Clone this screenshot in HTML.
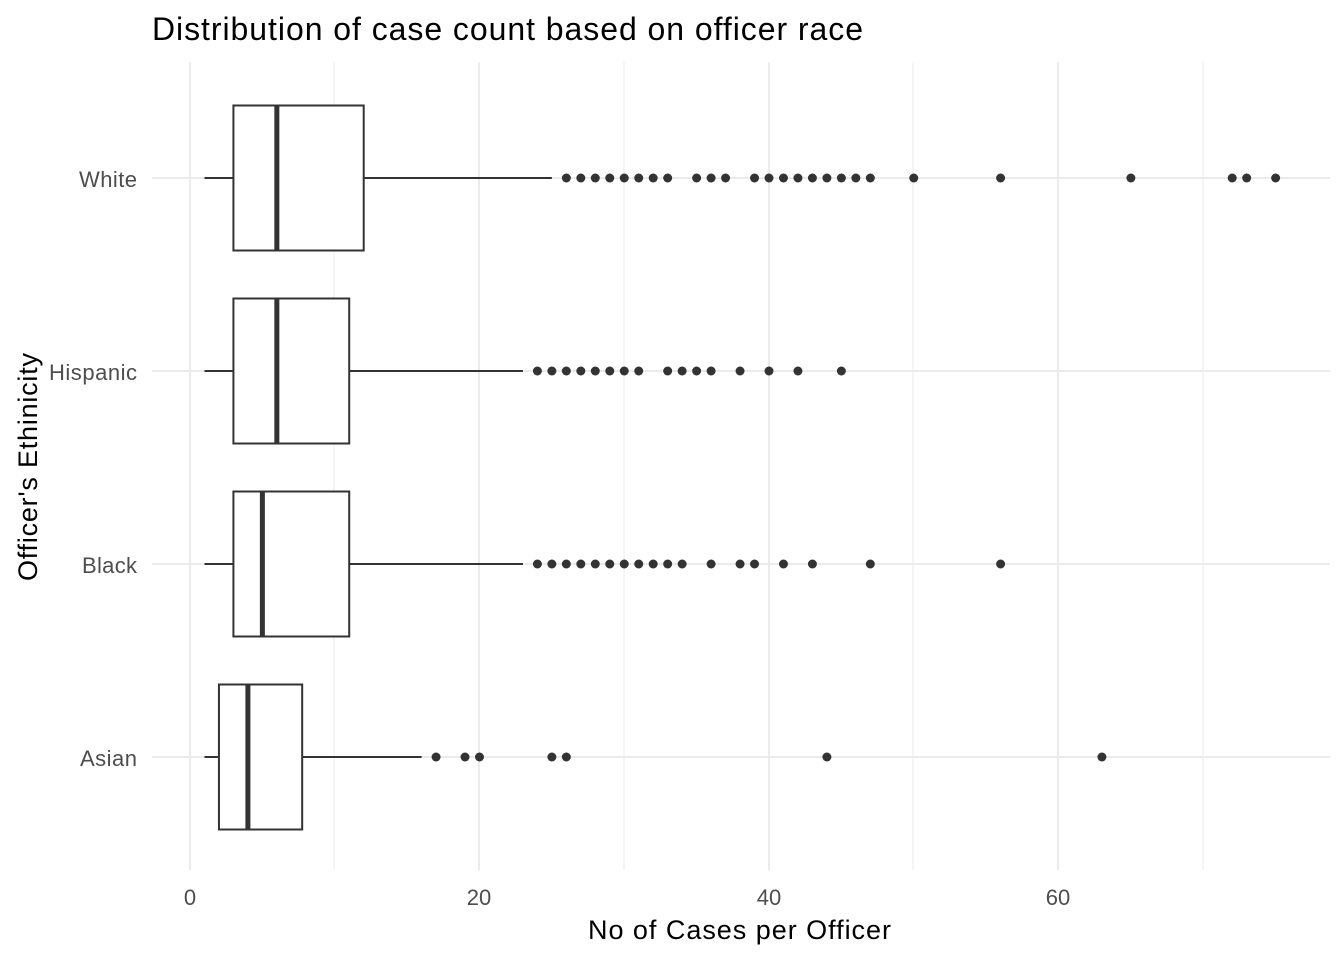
<!DOCTYPE html>
<html><head><style>body{margin:0;background:#fff}</style></head><body>
<svg width="1344" height="960" xmlns="http://www.w3.org/2000/svg" font-family="Liberation Sans, sans-serif">
<rect width="1344" height="960" fill="#fff"/>
<g stroke="#ebebeb" stroke-width="1">
<line x1="334" y1="62" x2="334" y2="870"/><line x1="624" y1="62" x2="624" y2="870"/><line x1="913" y1="62" x2="913" y2="870"/><line x1="1203" y1="62" x2="1203" y2="870"/>
</g>
<g stroke="#ebebeb" stroke-width="2">
<line x1="190" y1="62" x2="190" y2="870"/><line x1="479" y1="62" x2="479" y2="870"/><line x1="769" y1="62" x2="769" y2="870"/><line x1="1058" y1="62" x2="1058" y2="870"/>
<line x1="152" y1="178" x2="1330" y2="178"/><line x1="152" y1="371" x2="1330" y2="371"/><line x1="152" y1="564" x2="1330" y2="564"/><line x1="152" y1="757" x2="1330" y2="757"/>
</g>
<g id="boxes" stroke="#333" fill="#fff" stroke-width="2"></g>
<g id="pts" fill="#333"></g>
<g font-size="22" fill="#4d4d4d" text-anchor="end">
<text x="137" y="187" textLength="58">White</text><text x="137" y="380" textLength="88">Hispanic</text><text x="137" y="573" textLength="55">Black</text><text x="137" y="766" textLength="57">Asian</text>
</g>
<g font-size="22" fill="#4d4d4d" text-anchor="middle">
<text x="190" y="905">0</text><text x="479" y="905">20</text><text x="769" y="905">40</text><text x="1058" y="905">60</text>
</g>
<text x="588" y="939" font-size="27" fill="#000" textLength="303">No of Cases per Officer</text>
<text transform="translate(37,581) rotate(-90)" font-size="27" fill="#000" textLength="228">Officer's Ethinicity</text>
<text x="152" y="40" font-size="32" fill="#000" textLength="711">Distribution of case count based on officer race</text>
<script>
var s=v=>190+v*14.475,ns="http://www.w3.org/2000/svg";
var d=[[178,1,3,6,12,25,[26,27,28,29,30,31,32,33,35,36,37,39,40,41,42,43,44,45,46,47,50,56,65,72,73,75]],
[371,1,3,6,11,23,[24,25,26,27,28,29,30,31,33,34,35,36,38,40,42,45]],
[564,1,3,5,11,23,[24,25,26,27,28,29,30,31,32,33,34,36,38,39,41,43,47,56]],
[757,1,2,4,7.75,16,[17,19,20,25,26,44,63]]];
var B=document.getElementById('boxes'),P=document.getElementById('pts');
function el(p,t,a){var e=document.createElementNS(ns,t);for(var k in a)e.setAttribute(k,a[k]);p.appendChild(e);}
d.forEach(r=>{var y=r[0];
el(B,'line',{x1:s(r[1]),x2:s(r[2]),y1:y,y2:y});el(B,'line',{x1:s(r[4]),x2:s(r[5]),y1:y,y2:y});
el(B,'rect',{x:s(r[2]),y:y-72.5,width:s(r[4])-s(r[2]),height:145});
el(B,'line',{x1:s(r[3]),x2:s(r[3]),y1:y-72.5,y2:y+72.5,'stroke-width':5});
r[6].forEach(v=>el(P,'circle',{cx:s(v),cy:y,r:4.5}));});
</script>
</svg>
</body></html>
